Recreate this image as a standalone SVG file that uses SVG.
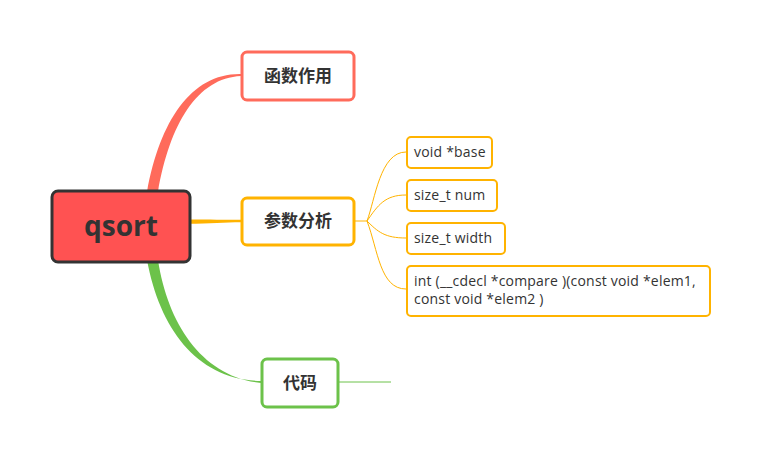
<svg xmlns="http://www.w3.org/2000/svg" width="760" height="458" viewBox="0 0 760 458">
<style>
.t{font-family:"Open Sans","Noto Sans CJK SC",sans-serif;fill:#333}
.cn{font-family:"Noto Sans CJK SC","Noto Sans",sans-serif;font-weight:bold;font-size:17px;fill:#333;text-anchor:middle}
.leaf{fill:#fff;stroke:#FFB300;stroke-width:2}
.lt{font-family:"Open Sans",sans-serif;font-size:14px;letter-spacing:0.2px;fill:#333}
</style>
<rect width="760" height="458" fill="#fff"/>
<g id="connectors">
<path d="M147,192 C160,120 192,73 241,74 L241,76 C197,78 170,124 158,192 Z" fill="#FF6B5B"/>
<path d="M188,219.5 C210,219.5 225,219.8 241,219.8 L241,222.2 C225,222.2 210,223.5 188,223.8 Z" fill="#FFB300"/>
<path d="M147,260 C160,330 198,380 261,381 L261,383 C203,377 168,325 158,260 Z" fill="#6CC24A"/>
<path d="M338,382 L391,382" stroke="#6CC24A" stroke-width="1" fill="none"/>
<g fill="none" stroke="#FFB300" stroke-width="1">
<path d="M354,221 L367,221"/>
<path d="M367,221 C375,200 380,152 406,152"/>
<path d="M367,221 C378,205 385,195 406,195"/>
<path d="M367,221 C378,232 385,238 406,238"/>
<path d="M367,221 C378,250 380,289 406,289"/>
</g>
</g>
<g id="root">
<rect x="52" y="191" width="138" height="71" rx="6" fill="#FF5252" stroke="#333" stroke-width="3"/>
<text class="t" x="121" y="236" font-size="28" font-weight="bold" text-anchor="middle">qsort</text>
</g>
<g id="n1">
<rect x="242" y="52" width="112" height="48" rx="5" fill="#fff" stroke="#FF6B5B" stroke-width="3"/>
<text class="cn" x="298" y="82">函数作用</text>
</g>
<g id="n2">
<rect x="242" y="198" width="112" height="47" rx="5" fill="#fff" stroke="#FFB300" stroke-width="3"/>
<text class="cn" x="298" y="227">参数分析</text>
</g>
<g id="n3">
<rect x="262" y="359" width="76" height="48" rx="5" fill="#fff" stroke="#6CC24A" stroke-width="3"/>
<text class="cn" x="300" y="389">代码</text>
</g>
<g id="l1">
<rect class="leaf" x="407" y="137" width="85" height="31" rx="4"/>
<text class="lt" x="414" y="157">void *base</text>
</g>
<g id="l2">
<rect class="leaf" x="407" y="180" width="90" height="31" rx="4"/>
<text class="lt" x="414" y="200">size_t num</text>
</g>
<g id="l3">
<rect class="leaf" x="407" y="223" width="98" height="31" rx="4"/>
<text class="lt" x="414" y="243">size_t width</text>
</g>
<g id="l4">
<rect class="leaf" x="407" y="266" width="303" height="50" rx="4"/>
<text class="lt" x="414" y="286">int (__cdecl *compare )(const void *elem1,</text>
<text class="lt" x="414" y="304">const void *elem2 )</text>
</g>
</svg>
